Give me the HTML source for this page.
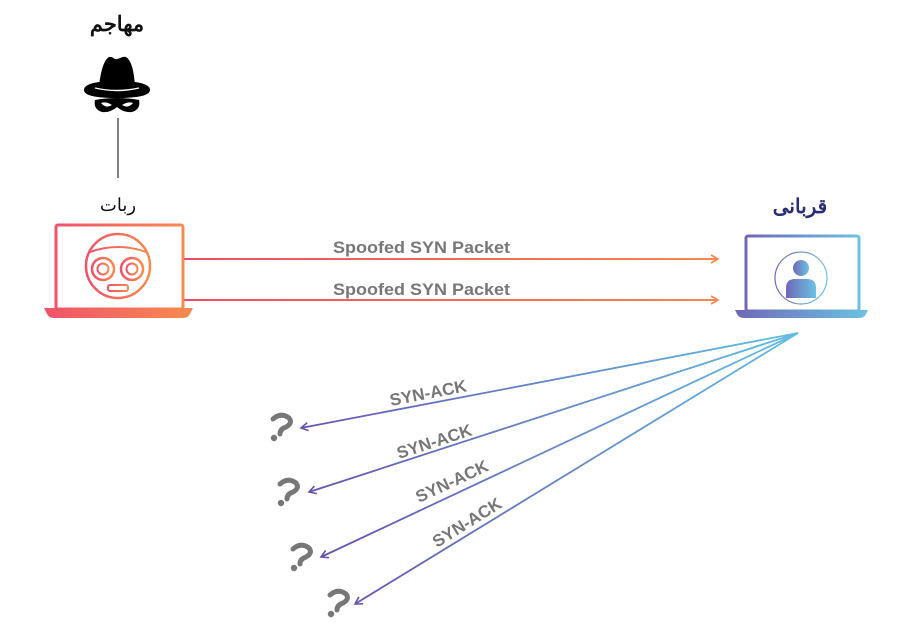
<!DOCTYPE html>
<html><head><meta charset="utf-8"><style>
html,body{margin:0;padding:0;background:#fff;width:900px;height:624px;overflow:hidden}
</style></head><body>
<svg width="900" height="624" viewBox="0 0 900 624" xmlns="http://www.w3.org/2000/svg">
<defs>
<linearGradient id="og" x1="0" x2="1" y1="0" y2="0"><stop offset="0" stop-color="#f0526a"/><stop offset="1" stop-color="#f78b4f"/></linearGradient>
<linearGradient id="og2" gradientUnits="userSpaceOnUse" x1="184" x2="720" y1="0" y2="0"><stop offset="0" stop-color="#f04c64"/><stop offset="1" stop-color="#f7874c"/></linearGradient>
<linearGradient id="bg" x1="0" x2="1" y1="0" y2="0"><stop offset="0" stop-color="#6e68b8"/><stop offset="1" stop-color="#6cc2e2"/></linearGradient>
<linearGradient id="lg" gradientUnits="userSpaceOnUse" x1="798" y1="333" x2="300" y2="470"><stop offset="0" stop-color="#62bde3"/><stop offset="1" stop-color="#6652b0"/></linearGradient>
<marker id="ao" markerWidth="10" markerHeight="10" refX="8" refY="5" orient="auto" markerUnits="userSpaceOnUse"><path d="M1,1 L8,5 L1,9" fill="none" stroke="#f7874c" stroke-width="1.6"/></marker>
<marker id="ab" markerWidth="10" markerHeight="10" refX="8" refY="5" orient="auto" markerUnits="userSpaceOnUse"><path d="M1,1 L8,5 L1,9" fill="none" stroke="#6652b0" stroke-width="1.6"/></marker>
<g id="q"><path d="M-8,-10 Q0,-17 8,-11 Q12,-6 5,-2 Q-1,0 -1,5" fill="none" stroke="#777" stroke-width="5" stroke-linecap="round"/><circle cx="-7" cy="9" r="3.2" fill="#777"/></g>
</defs>

<text x="117" y="31" font-family="'Liberation Sans','Noto Sans CJK SC',sans-serif" font-size="21" font-weight="bold" text-anchor="middle" fill="#111">مهاجم</text>
<!-- hat -->
<path d="M99,86 C101,70 104,60 109,57 C113,56 114,60 117,59 C121,58 123,56 126,57 C131,60 134,70 135,86 Z" fill="#000"/>
<path d="M84,90 Q84,84 99,82 Q117,80 135,82 Q150,84 150,90 Q150,98 117,98 Q84,98 84,90 Z" fill="#000"/>
<path d="M95,88 Q117,93 139,88" stroke="#fff" stroke-width="1.4" fill="none"/>
<path d="M95,100 Q117,96 139,100 Q141,109 132,112 Q124,113 117,107 Q110,113 102,112 Q93,109 95,100 Z" fill="#000"/>
<path d="M101,103 Q106,101 112,105 Q106,109 101,103 Z M133,103 Q128,101 122,105 Q128,109 133,103 Z" fill="#fff"/>
<line x1="118" y1="118" x2="118" y2="178" stroke="#555" stroke-width="1.5"/>
<text x="118" y="211" font-family="'Liberation Sans','Noto Sans CJK SC',sans-serif" font-size="18" text-anchor="middle" fill="#111">ربات</text>

<!-- bot laptop -->
<rect x="56" y="225" width="127" height="84" rx="2" fill="none" stroke="url(#og)" stroke-width="3"/>
<path d="M44,308 H193 L190,314 Q188,318 183,318 H54 Q49,318 47,314 Z" fill="url(#og)"/>
<circle cx="118" cy="266" r="32" fill="none" stroke="url(#og)" stroke-width="2.5"/>
<path d="M90,252 Q118,242 146,252" fill="none" stroke="url(#og)" stroke-width="2"/>
<circle cx="103" cy="269" r="11" fill="none" stroke="url(#og)" stroke-width="2.5"/>
<circle cx="103" cy="269" r="5.5" fill="none" stroke="url(#og)" stroke-width="2"/>
<circle cx="132" cy="269" r="11" fill="none" stroke="url(#og)" stroke-width="2.5"/>
<circle cx="132" cy="269" r="5.5" fill="none" stroke="url(#og)" stroke-width="2"/>
<rect x="108" y="285" width="20" height="6" rx="2" fill="none" stroke="url(#og)" stroke-width="2"/>

<!-- spoofed arrows -->
<line x1="184" y1="259" x2="718" y2="259" stroke="url(#og2)" stroke-width="2" marker-end="url(#ao)"/>
<line x1="184" y1="300" x2="718" y2="300" stroke="url(#og2)" stroke-width="2" marker-end="url(#ao)"/>
<g font-family="'Liberation Sans',sans-serif" font-size="17" font-weight="bold" fill="#777">
<text x="333" y="253" textLength="177" lengthAdjust="spacingAndGlyphs">Spoofed SYN Packet</text>
<text x="333" y="295" textLength="177" lengthAdjust="spacingAndGlyphs">Spoofed SYN Packet</text>
</g>

<!-- victim -->
<text x="800" y="213" font-family="'Liberation Sans','Noto Sans CJK SC',sans-serif" font-size="20" font-weight="bold" text-anchor="middle" fill="#2b2e72">قربانی</text>
<rect x="746" y="236" width="113" height="75" rx="2" fill="none" stroke="url(#bg)" stroke-width="3"/>
<path d="M735,310 H868 L866,314 Q864,318 859,318 H744 Q739,318 737,314 Z" fill="url(#bg)"/>
<circle cx="801" cy="278" r="26" fill="none" stroke="url(#bg)" stroke-width="1.2"/>
<circle cx="801" cy="268" r="8" fill="url(#bg)"/>
<path d="M786,298 V288 Q786,279 795,279 H807 Q816,279 816,288 V298 Z" fill="url(#bg)"/>

<!-- syn-ack lines -->
<g stroke="url(#lg)" stroke-width="1.8" fill="none">
<line x1="798" y1="333" x2="301" y2="428" marker-end="url(#ab)"/>
<line x1="798" y1="333" x2="309" y2="492" marker-end="url(#ab)"/>
<line x1="798" y1="333" x2="321" y2="557" marker-end="url(#ab)"/>
<line x1="798" y1="333" x2="355" y2="604" marker-end="url(#ab)"/>
</g>
<g font-family="'Liberation Sans',sans-serif" font-size="17" font-weight="bold" fill="#777">
<text transform="translate(391,406) rotate(-11)" textLength="78" lengthAdjust="spacingAndGlyphs">SYN-ACK</text>
<text transform="translate(399,459) rotate(-18)" textLength="78" lengthAdjust="spacingAndGlyphs">SYN-ACK</text>
<text transform="translate(419,503) rotate(-25)" textLength="78" lengthAdjust="spacingAndGlyphs">SYN-ACK</text>
<text transform="translate(437,548) rotate(-32)" textLength="78" lengthAdjust="spacingAndGlyphs">SYN-ACK</text>
</g>
<use href="#q" x="281" y="429"/>
<use href="#q" x="288" y="494"/>
<use href="#q" x="301" y="559"/>
<use href="#q" x="338" y="605"/>
</svg>
</body></html>
